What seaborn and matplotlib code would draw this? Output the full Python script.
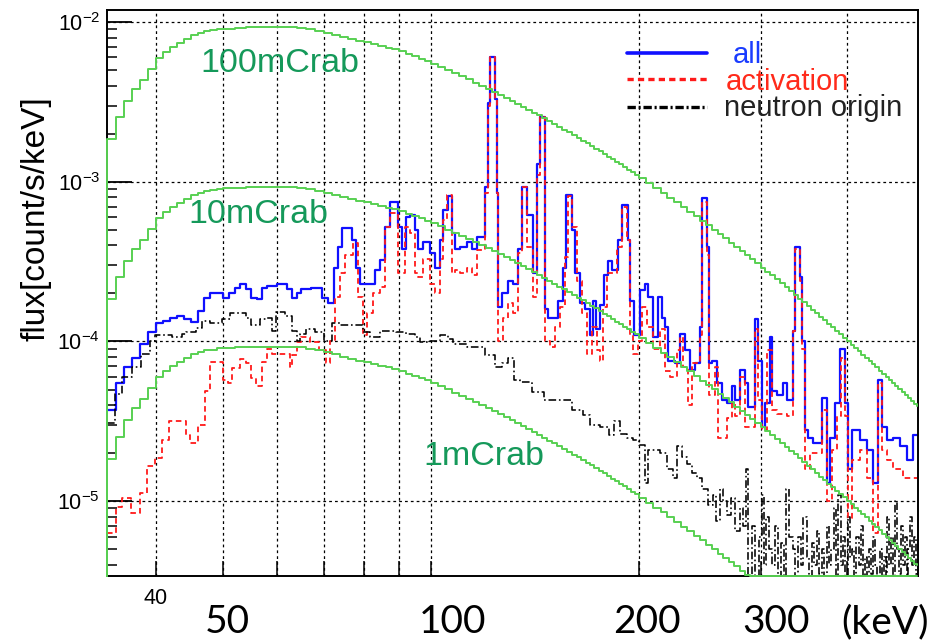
import numpy as np
import matplotlib
matplotlib.use("Agg")
import matplotlib.pyplot as plt
import seaborn as sns
from matplotlib.lines import Line2D
from matplotlib.ticker import (FixedLocator, FixedFormatter, LogLocator,
                               LogFormatterSciNotation, NullLocator)

# ---------------- data ----------------
# Crab reference spectrum (100 mCrab), histogram bin edges in keV
crab_edges = (list(range(34, 51)) + list(range(52, 101, 2)) +
              [100 + 2.5 * k for k in range(1, 41)] + list(range(205, 506, 5)) + [507])
crab_100m = [1.85e-3, 2.54e-3, 3.21e-3, 3.81e-3, 4.34e-3, 5.08e-3, 5.95e-3, 6.49e-3,
             6.98e-3, 7.39e-3, 7.83e-3, 8.29e-3, 8.53e-3, 8.78e-3, 8.9e-3, 9.04e-3,
             # 50-100 keV
             9.1e-3, 9.2e-3, 9.25e-3, 9.3e-3, 9.3e-3, 9.3e-3, 9.3e-3, 9.2e-3, 9.0e-3,
             8.8e-3, 8.55e-3, 8.3e-3, 8.05e-3, 7.8e-3, 7.6e-3, 7.45e-3, 7.25e-3, 7.05e-3,
             6.9e-3, 6.75e-3, 6.55e-3, 6.3e-3, 6.1e-3, 5.9e-3, 5.7e-3,
             # 100-200 keV
             5.495e-3, 5.248e-3, 5.012e-3, 4.788e-3, 4.576e-3, 4.374e-3, 4.182e-3, 4.0e-3,
             3.827e-3, 3.663e-3, 3.507e-3, 3.358e-3, 3.217e-3, 3.082e-3, 2.953e-3, 2.831e-3,
             2.714e-3, 2.603e-3, 2.497e-3, 2.396e-3, 2.3e-3, 2.208e-3, 2.121e-3, 2.038e-3,
             1.958e-3, 1.882e-3, 1.81e-3, 1.74e-3, 1.674e-3, 1.61e-3, 1.55e-3, 1.492e-3,
             1.437e-3, 1.383e-3, 1.332e-3, 1.284e-3, 1.237e-3, 1.192e-3, 1.149e-3, 1.109e-3,
             # 200-507 keV
             1.0505e-3, 9.782e-4, 9.117e-4, 8.506e-4, 7.94e-4, 7.419e-4, 6.935e-4, 6.49e-4,
             6.075e-4, 5.69e-4, 5.337e-4, 5.006e-4, 4.7e-4, 4.417e-4, 4.153e-4, 3.906e-4,
             3.677e-4, 3.463e-4, 3.264e-4, 3.079e-4, 2.904e-4, 2.741e-4, 2.589e-4, 2.447e-4,
             2.313e-4, 2.188e-4, 2.071e-4, 1.961e-4, 1.858e-4, 1.76e-4, 1.669e-4, 1.584e-4,
             1.503e-4, 1.427e-4, 1.356e-4, 1.288e-4, 1.225e-4, 1.165e-4, 1.108e-4, 1.055e-4,
             1.004e-4, 9.566e-5, 9.115e-5, 8.688e-5, 8.285e-5, 7.903e-5, 7.541e-5, 7.198e-5,
             6.874e-5, 6.566e-5, 6.273e-5, 5.996e-5, 5.733e-5, 5.483e-5, 5.245e-5, 5.019e-5,
             4.804e-5, 4.601e-5, 4.407e-5, 4.222e-5, 4.047e-5, 3.96e-5]
crab_levels = {"100mCrab": 1.0, "10mCrab": 0.1, "1mCrab": 0.01}

# "all" background spectrum: bin left edges (keV) and flux
all_E = [34.0, 35.0, 36.0, 37.0, 38.0, 39.0, 40.0, 41.0, 42.0, 43.0, 44.0, 45.0, 46.0, 47.0,
         48.0, 50.0, 51.0, 52.0, 53.0, 54.0, 55.0, 56.0, 57.0, 58.0, 60.0, 62.0, 63.0, 64.0,
         65.0, 67.0, 69.5, 71.0, 72.5, 73.5, 74.5, 77.0, 78.0, 79.0, 83.0, 84.4, 85.8, 87.2,
         89.7, 91.0, 92.0, 93.2, 94.8, 95.8, 97.4, 99.7, 101.3, 103.0, 104.0, 105.8, 107.2,
         108.3, 110.1, 112.7, 114.6, 116.6, 119.7, 120.9, 121.7, 123.8, 124.6, 125.1, 126.8,
         129.3, 131.4, 133.6, 135.4, 137.7, 140.5, 142.3, 143.8, 146.2, 147.7, 152.7, 155.2,
         156.8, 160.0, 161.6, 164.3, 167.1, 169.9, 171.6, 173.3, 175.6, 178.0, 180.4, 182.8,
         186.4, 188.9, 192.8, 194.1, 196.7, 200.7, 204.0, 206.0, 209.5, 212.9, 215.9, 218.0,
         220.3, 225.5, 229.3, 233.2, 237.1, 241.1, 245.1, 246.7, 250.9, 252.6, 255.1, 259.3,
         263.6, 268.1, 272.6, 275.4, 280.0, 284.7, 287.5, 294.4, 297.3, 301.3, 304.4, 309.5,
         311.6, 316.8, 323.2, 327.5, 334.2, 336.4, 342.0, 344.3, 347.8, 351.3, 357.2, 368.0,
         374.1, 377.9, 384.3, 390.7, 397.3, 401.3, 406.7, 417.6, 427.4, 436.1, 443.4, 449.4,
         457.0, 466.2, 477.2, 488.5, 498.4]
all_flux = [3.7e-5, 5.5e-5, 6.9e-5, 7.9e-5, 9.7e-5, 1.14e-4, 1.30e-4, 1.35e-4, 1.41e-4, 1.45e-4,
            1.38e-4, 1.33e-4, 1.56e-4, 1.88e-4, 2.02e-4, 1.88e-4, 2.02e-4, 2.17e-4, 2.30e-4,
            2.14e-4, 1.88e-4, 1.85e-4, 2.17e-4, 2.24e-4, 2.30e-4, 2.14e-4, 1.88e-4, 2.0e-4,
            2.14e-4, 2.17e-4, 1.88e-4, 1.75e-4, 2.9e-4, 3.9e-4, 5.1e-4, 4.3e-4, 2.9e-4, 2.3e-4,
            2.8e-4, 3.25e-4, 5.2e-4, 7.5e-4, 5.2e-4, 3.8e-4, 6.0e-4, 6.2e-4, 5.0e-4, 3.8e-4,
            4.2e-4, 3.6e-4, 2.9e-4, 4.3e-4, 6.7e-4, 8.1e-4, 4.8e-4, 3.8e-4, 3.9e-4, 4.2e-4,
            3.8e-4, 4.5e-4, 9.3e-4, 3.1e-3, 6.0e-3, 3.3e-3, 8.5e-4, 1.65e-4, 2.0e-4, 2.4e-4,
            2.3e-4, 3.8e-4, 9.3e-4, 6.2e-4, 2.7e-4, 1.3e-3, 2.55e-3, 1.6e-4, 1.4e-4, 1.8e-4,
            2.9e-4, 8.3e-4, 5.0e-4, 2.7e-4, 1.75e-4, 1.6e-4, 1.1e-4, 1.8e-4, 1.2e-4, 1.7e-4,
            2.6e-4, 3.2e-4, 2.8e-4, 4.3e-4, 7.2e-4, 4.3e-4, 1.8e-4, 1.1e-4, 2.1e-4, 2.3e-4,
            1.9e-4, 1.07e-4, 1.9e-4, 1.4e-4, 1.24e-4, 7.6e-5, 7.3e-5, 1.12e-4, 8.8e-5, 6.6e-5,
            7.3e-5, 1.24e-4, 7.9e-4, 3.9e-4, 7.3e-5, 7.6e-5, 5.5e-5, 4.3e-5, 4.1e-5, 5.3e-5,
            4.3e-5, 6.6e-5, 5.5e-5, 3.9e-5, 1.39e-4, 7.6e-5, 2.9e-5, 4.1e-5, 1.06e-4, 4.9e-5,
            4.6e-5, 5.5e-5, 4.3e-5, 1.17e-4, 3.9e-4, 2.55e-4, 1.0e-4, 2.8e-5, 2.5e-5, 2.3e-5,
            4.4e-5, 1.3e-5, 2.5e-5, 4.1e-5, 9.0e-5, 4.1e-5, 1.6e-5, 2.8e-5, 2.4e-5, 2.1e-5,
            1.3e-5, 5.7e-5, 2.9e-5, 2.4e-5, 2.5e-5, 2.2e-5, 1.8e-5, 2.6e-5]

# "activation" component
act_E = [34.0, 35.0, 35.8, 36.8, 37.9, 38.9, 39.9, 40.8, 41.8, 44.2, 44.9, 46.0, 47.1, 47.9,
         50.0, 50.8, 51.6, 52.9, 54.0, 55.0, 55.9, 56.9, 57.9, 58.9, 62.5, 63.0, 64.0, 65.0,
         66.8, 69.0, 70.5, 71.4, 72.6, 73.9, 75.1, 77.1, 78.4, 79.7, 80.9, 82.5, 84.4, 85.8,
         87.2, 89.7, 91.7, 93.2, 94.8, 95.8, 97.4, 99.7, 101.3, 103.0, 104.0, 105.5, 107.2,
         108.3, 110.1, 112.7, 114.6, 116.6, 119.7, 120.9, 121.7, 123.8, 124.6, 125.1, 127.2,
         129.3, 131.4, 133.6, 135.4, 137.7, 140.5, 142.3, 143.8, 146.2, 148.7, 151.2, 153.7,
         156.3, 157.8, 160.0, 162.7, 165.4, 168.2, 171.0, 173.8, 175.6, 177.4, 179.8, 186.0,
         189.0, 192.2, 194.1, 196.0, 199.4, 202.3, 205.7, 209.5, 214.5, 218.0, 221.8, 227.0,
         229.3, 231.7, 235.5, 238.7, 245.1, 246.7, 250.9, 252.6, 257.6, 260.2, 268.1, 272.6,
         275.4, 280.0, 284.7, 294.4, 297.3, 301.3, 306.4, 311.6, 316.8, 327.5, 334.2, 336.4,
         342.0, 344.3, 347.8, 353.6, 368.0, 374.1, 380.4, 386.8, 392.0, 397.3, 401.3, 406.7,
         417.6, 427.4, 436.1, 443.4, 449.4, 457.0, 466.2, 482.0]
act_flux = [6.3e-6, 9.2e-6, 1.04e-5, 8.4e-6, 1.12e-5, 1.65e-5, 1.87e-5, 2.4e-5, 3.2e-5, 2.6e-5,
            2.3e-5, 3.0e-5, 4.9e-5, 7.4e-5, 5.7e-5, 5.5e-5, 6.8e-5, 7.8e-5, 7.3e-5, 5.9e-5,
            5.3e-5, 7.4e-5, 9.0e-5, 8.4e-5, 6.9e-5, 8.2e-5, 9.9e-5, 1.06e-4, 9.9e-5, 8.8e-5,
            7.3e-5, 1.0e-4, 1.9e-4, 2.7e-4, 3.5e-4, 4.15e-4, 1.9e-4, 1.1e-4, 1.5e-4, 2.0e-4,
            2.2e-4, 5.2e-4, 6.4e-4, 2.7e-4, 5.2e-4, 4.8e-4, 2.7e-4, 2.55e-4, 3.3e-4, 2.3e-4,
            2.0e-4, 3.3e-4, 5.8e-4, 8.3e-4, 2.7e-4, 2.8e-4, 2.7e-4, 2.9e-4, 2.6e-4, 3.75e-4,
            8.5e-4, 3.0e-3, 6.0e-3, 3.3e-3, 8.5e-4, 1.0e-4, 1.4e-4, 1.75e-4, 1.5e-4, 3.6e-4,
            9.3e-4, 3.9e-4, 1.9e-4, 1.1e-3, 2.55e-3, 1.0e-4, 9.2e-5, 1.24e-4, 1.65e-4, 3.4e-4,
            8.1e-4, 5.2e-4, 2.4e-4, 1.5e-4, 8.4e-5, 1.24e-4, 8.8e-5, 7.6e-5, 1.65e-4, 2.7e-4,
            3.9e-4, 7.0e-4, 4.3e-4, 1.1e-4, 8.4e-5, 1.0e-4, 1.65e-4, 1.24e-4, 9.0e-5, 1.2e-4,
            6.5e-5, 6.0e-5, 8.8e-5, 1.06e-4, 6.9e-5, 4.0e-5, 7.3e-5, 1.1e-4, 7.5e-4, 3.5e-4,
            4.6e-5, 6.9e-5, 2.5e-5, 3.3e-5, 4.1e-5, 3.4e-5, 6.0e-5, 2.9e-5, 1.2e-4, 4.3e-5,
            2.8e-5, 8.8e-5, 3.7e-5, 3.5e-5, 3.4e-5, 1.17e-4, 3.8e-4, 2.4e-4, 9.0e-5, 1.6e-5,
            2.0e-5, 3.7e-5, 1.0e-5, 2.1e-5, 3.4e-5, 7.9e-5, 3.4e-5, 7.9e-6, 1.8e-5, 2.1e-5,
            1.4e-5, 6.3e-6, 5.5e-5, 2.1e-5, 1.8e-5, 1.6e-5, 1.4e-5]

# "neutron origin" component
neu_E = [34.0, 34.9, 35.8, 37.0, 38.1, 39.2, 39.9, 42.2, 43.6, 44.2, 45.8, 46.7, 47.9, 49.8,
         51.3, 54.0, 55.0, 56.6, 57.9, 59.0, 59.8, 61.5, 63.0, 64.0, 64.6, 66.0, 68.0, 70.0,
         72.0, 73.9, 79.8, 81.6, 84.4, 89.2, 92.0, 94.8, 96.4, 99.7, 103.0, 105.8, 107.8,
         112.7, 119.7, 123.8, 126.8, 129.3, 132.0, 134.5, 140.0, 146.0, 160.0, 166.0, 170.0,
         175.6, 181.0, 184.0, 187.7, 192.0, 196.0, 200.0, 204.0, 206.0, 214.5, 219.6, 224.0,
         227.0, 231.0, 234.8, 239.0, 243.0, 247.0, 251.7, 256.0, 259.0, 262.0, 265.0, 268.1,
         272.0, 276.0, 280.0, 283.0, 286.0, 288.0, 292, 295, 298, 301, 304, 306, 309, 312, 315,
         318, 321, 324, 327, 330, 334, 337, 340, 343, 346, 350, 353, 356, 359, 362, 365, 368,
         371, 374, 377, 380, 383, 386, 389, 392, 395, 398, 401, 404, 407, 410, 413, 416, 419,
         422, 425, 428, 431, 434, 437, 440, 443, 446, 449, 452, 455, 458, 461, 464, 467, 470,
         473, 476, 479, 482, 485, 488, 491, 494, 497, 500, 503]
neu_flux = [3.1e-5, 4.7e-5, 6.0e-5, 6.9e-5, 8.4e-5, 1.0e-4, 1.09e-4, 1.06e-4, 1.12e-4, 1.14e-4,
            1.22e-4, 1.35e-4, 1.3e-4, 1.39e-4, 1.5e-4, 1.41e-4, 1.26e-4, 1.39e-4, 1.41e-4,
            1.17e-4, 1.52e-4, 1.45e-4, 1.17e-4, 1.0e-4, 1.12e-4, 1.19e-4, 1.14e-4, 1.0e-4,
            1.3e-4, 1.26e-4, 1.14e-4, 1.06e-4, 1.17e-4, 1.14e-4, 1.12e-4, 1.06e-4, 9.9e-5,
            1.0e-4, 1.09e-4, 1.04e-4, 9.7e-5, 9.2e-5, 8.2e-5, 6.9e-5, 7.3e-5, 7.9e-5, 5.7e-5,
            5.6e-5, 4.8e-5, 4.3e-5, 3.7e-5, 3.45e-5, 3.0e-5, 2.9e-5, 2.6e-5, 3.2e-5, 2.65e-5,
            2.5e-5, 2.4e-5, 2.25e-5, 1.3e-5, 2.1e-5, 2.0e-5, 1.6e-5, 1.4e-5, 2.2e-5, 1.9e-5,
            1.7e-5, 1.5e-5, 1.4e-5, 1.2e-5, 9.4e-6, 1.1e-5, 7.5e-6, 1.2e-5, 1.0e-5, 8.2e-6,
            1.05e-5, 6.5e-6, 9.0e-6, 7.0e-6, 1.6e-5, 3e-6, 7e-6, 3e-6, 6e-6, 1.1e-5, 4e-6, 8e-6,
            5e-6, 4e-6, 7e-6, 2e-6, 5.5e-6, 3e-6, 1.2e-5, 6e-6, 5e-6, 2e-6, 6e-6, 4e-6, 8e-6,
            4.5e-6, 3e-6, 5.5e-6, 4e-6, 6.5e-6, 3.5e-6, 5e-6, 2e-6, 7e-6, 4e-6, 5e-6, 9e-6,
            3e-6, 1.1e-5, 4e-6, 6e-6, 2e-6, 8e-6, 4.5e-6, 5e-6, 3e-6, 6e-6, 4e-6, 7e-6, 3e-6,
            4.5e-6, 2e-6, 5e-6, 3.5e-6, 6e-6, 4e-6, 2e-6, 5e-6, 3e-6, 4.5e-6, 2e-6, 8e-6, 4e-6,
            6e-6, 3e-6, 1e-5, 5e-6, 3.5e-6, 7e-6, 4e-6, 6e-6, 3e-6, 5e-6, 8e-6, 4e-6, 6e-6,
            3.5e-6]
E_END = 507.0

legend_labels = ["all", "activation", "neutron origin"]
energy_marks = ["50", "100", "200", "300", "(keV)"]

# ---------------- styling ----------------
sns.set_theme(style="white")
plt.rcParams["font.family"] = ["Liberation Sans", "DejaVu Sans"]
plt.rcParams["mathtext.fontset"] = "custom"
plt.rcParams["mathtext.rm"] = "Liberation Sans"
plt.rcParams["axes.unicode_minus"] = False
plt.rcParams["lines.scale_dashes"] = False
plt.rcParams["text.color"] = "black"
plt.rcParams["xtick.color"] = "black"
plt.rcParams["ytick.color"] = "black"
plt.rcParams["axes.labelcolor"] = "black"

W, H = 947, 643
fig = plt.figure(figsize=(W / 100, H / 100), dpi=100)
fig.patch.set_facecolor("white")
L, R, T, B = 107, 918, 10, 576
ax = fig.add_axes([L / W, 1 - B / H, (R - L) / W, (B - T) / H])
ax.set_xscale("log")
ax.set_yscale("log")
XMIN, XMAX = 34.0, 507.0
YMIN, YMAX = 3.4e-6, 1.19e-2


def step_xy(edges, vals, end=None, floor=YMIN * 0.999):
    x = np.asarray(edges, float)
    if end is not None:
        x = np.append(x, end)
    y = np.asarray(vals, float)
    y = np.append(y, y[-1])
    y = np.maximum(y, floor)
    return x, y


BLUE, RED, GREEN = "#1010ff", "#ff1a1a", "#58d052"

x, y = step_xy(all_E, all_flux, E_END)
sns.lineplot(x=x, y=y, ax=ax, drawstyle="steps-post", estimator=None, sort=False,
             color=BLUE, linewidth=1.6, zorder=2.0)

x, y = step_xy(act_E, act_flux, E_END)
sns.lineplot(x=x, y=y, ax=ax, drawstyle="steps-post", estimator=None, sort=False,
             color=RED, linewidth=1.3, zorder=2.1)
ax.lines[-1].set_linestyle((0, (4.0, 2.6)))

x, y = step_xy(neu_E, neu_flux, E_END)
sns.lineplot(x=x, y=y, ax=ax, drawstyle="steps-post", estimator=None, sort=False,
             color="black", linewidth=1.15, zorder=2.2)
ax.lines[-1].set_linestyle((0, (5.5, 2.0, 1.2, 2.0)))

for name, scale in crab_levels.items():
    x, y = step_xy(crab_edges, np.asarray(crab_100m) * scale)
    x = np.concatenate([[crab_edges[0]], x[:-1]])
    y = np.concatenate([[YMIN], y[:-1]])
    sns.lineplot(x=x, y=y, ax=ax, drawstyle="steps-post", estimator=None, sort=False,
                 color=GREEN, linewidth=1.4, zorder=3, clip_on=False)

ax.set_xlim(XMIN, XMAX)
ax.set_ylim(YMIN, YMAX)

# axes / ticks / grid
xt = [40, 50, 60, 70, 80, 90, 100, 200, 300, 400]
ax.xaxis.set_major_locator(FixedLocator(xt))
ax.xaxis.set_major_formatter(FixedFormatter(["40"] + [""] * (len(xt) - 1)))
ax.xaxis.set_minor_locator(NullLocator())
ax.yaxis.set_major_locator(LogLocator(base=10, numticks=12))
ax.yaxis.set_minor_locator(LogLocator(base=10, subs=np.arange(2, 10), numticks=40))
ax.yaxis.set_major_formatter(LogFormatterSciNotation())
ax.tick_params(which="both", bottom=True, left=True, top=False, right=False)
ax.tick_params(axis="y", which="major", direction="in", length=18, width=1.3,
               labelsize=15.5, pad=5)
ax.tick_params(axis="y", which="minor", direction="in", length=7, width=1.1)
ax.tick_params(axis="x", which="major", direction="in", length=11, width=1.1,
               labelsize=15.5, pad=9)
ax.grid(True, which="major", axis="both", color="black",
        linestyle=(0, (2.0, 2.2)), linewidth=0.9)
ax.set_axisbelow(True)
for s in ax.spines.values():
    s.set_color("black")
    s.set_linewidth(1.4)
ax.set_xlabel("")
ax.set_ylabel("flux[count/s/keV]", fontsize=24)
ax.yaxis.set_label_coords(-0.068, 0.631)


def fp(px, py):
    return px / W, 1 - py / H


# crab labels
CRAB_TXT = "#15995a"
for (lab, px, py) in [("100mCrab", 200, 72), ("10mCrab", 188, 223), ("1mCrab", 423, 465)]:
    fig.text(*fp(px, py), lab, fontsize=24.5, color=CRAB_TXT, ha="left", va="baseline")

# legend
leg_styles = [dict(color=BLUE, lw=2.6, ls="-"),
              dict(color=RED, lw=2.4, ls=(0, (4.5, 3.0))),
              dict(color="black", lw=2.4, ls=(0, (6.0, 2.0, 1.5, 2.0)))]
leg_line_y = [53, 79, 107]
leg_text = [(733, 63, "#1a3cff"), (726, 89.5, "#ff2a1a"), (724, 116, "#222222")]
for lab, st, ly, (tx, ty, tc) in zip(legend_labels, leg_styles, leg_line_y, leg_text):
    fig.add_artist(Line2D([627 / W, 707 / W], [1 - ly / H, 1 - ly / H],
                          transform=fig.transFigure, **st))
    fig.text(*fp(tx, ty), lab, fontsize=21, color=tc, ha="left", va="baseline")

# big energy annotations below the axis
for lab, px in zip(energy_marks, [227, 453, 647, 776, 885]):
    fig.text(*fp(px, 633), lab, fontsize=28, family=["Lato", "DejaVu Sans"],
             ha="center", va="baseline", color="black")

fig.savefig("out.png", dpi=100, facecolor="white")
